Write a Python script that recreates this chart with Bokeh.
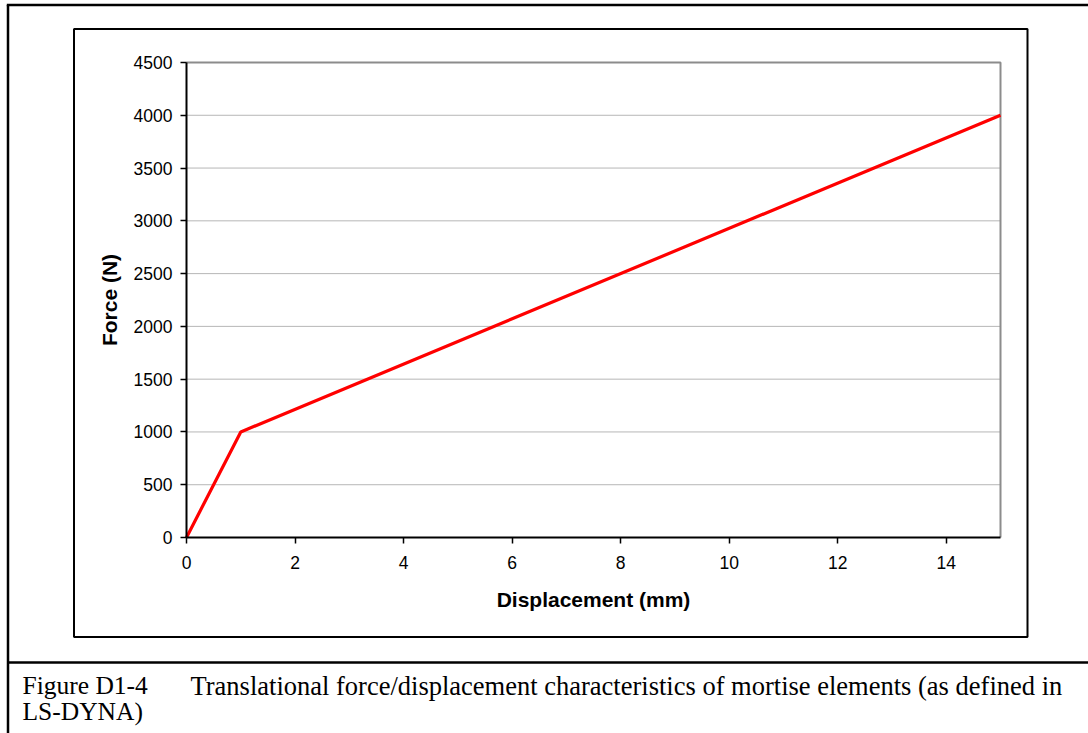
from bokeh.plotting import figure
from bokeh.models import LinearAxis, Range1d, FixedTicker, Grid
from bokeh.core.properties import value
from bokeh.embed import file_html
from bokeh.resources import INLINE

# ---- data ----
displacement = [0, 1, 15]
force = [0, 1000, 4000]
x_ticks = [0, 2, 4, 6, 8, 10, 12, 14]
y_ticks = [0, 500, 1000, 1500, 2000, 2500, 3000, 3500, 4000, 4500]
x_bounds = (0, 15)
y_bounds = (0, 4500)
x_title = "Displacement (mm)"
y_title = "Force (N)"
caption_label = "Figure D1-4"
caption_text = "Translational force/displacement characteristics of mortise elements (as defined in"
caption_line2 = "LS-DYNA)"

# ---- layout (canvas pixels) ----
W, H = 1088, 733
PX0, PX1 = 186, 1000   # canvas x of x_bounds
PY0, PY1 = 537, 62     # canvas y of y_bounds


def dx(px):
    return x_bounds[0] + (px - PX0) / (PX1 - PX0) * (x_bounds[1] - x_bounds[0])


def dy(py):
    return y_bounds[0] + (PY0 - py) / (PY0 - PY1) * (y_bounds[1] - y_bounds[0])


p = figure(width=W, height=H, output_backend="svg", toolbar_location=None,
           x_range=Range1d(dx(0), dx(W)), y_range=Range1d(dy(H), dy(0)),
           x_axis_location=None, y_axis_location=None, min_border=0)
p.center = [r for r in p.center if not isinstance(r, Grid)]
p.outline_line_color = None
p.background_fill_color = "white"
p.border_fill_color = "white"

# page frame lines
p.line(x=[dx(7.5), dx(7.5)], y=[dy(H), dy(4.5)], line_color="black", line_width=2.5)
p.line(x=[dx(6.3), dx(W)], y=[dy(4.5), dy(4.5)], line_color="black", line_width=2.5)
p.line(x=[dx(7.5), dx(W)], y=[dy(662), dy(662)], line_color="black", line_width=2.5)
# chart box
p.quad(left=dx(73.5), right=dx(1027), top=dy(28.5), bottom=dy(636.5),
       fill_color=None, line_color="black", line_width=2)

# gridlines
gy = [v for v in y_ticks if v != y_bounds[0]]
p.segment(x0=[x_bounds[0]] * len(gy), x1=[x_bounds[1]] * len(gy), y0=gy, y1=gy,
          line_color="#6e6e6e", line_width=1, line_dash="1 1")
# plot-area border (top / right)
p.line(x=[x_bounds[0], x_bounds[1], x_bounds[1]], y=[y_bounds[1], y_bounds[1], y_bounds[0]],
       line_color="#8c8c8c", line_width=2)

# data
p.line(x=displacement, y=force, line_color="#ff0000", line_width=3.2)

font = "Liberation Sans"
xaxis = LinearAxis(fixed_location=y_bounds[0], bounds=x_bounds,
                   ticker=FixedTicker(ticks=x_ticks), axis_label=x_title)
yaxis = LinearAxis(fixed_location=x_bounds[0], bounds=y_bounds,
                   ticker=FixedTicker(ticks=y_ticks), axis_label=y_title)
for ax in (xaxis, yaxis):
    ax.axis_line_color = "black"
    ax.axis_line_width = 2
    ax.major_tick_line_color = "black"
    ax.major_tick_line_width = 1.5
    ax.major_tick_in = 0
    ax.major_tick_out = 6
    ax.minor_tick_line_color = None
    ax.major_label_text_font = font
    ax.major_label_text_font_size = "17.5px"
    ax.major_label_text_color = "black"
    ax.axis_label_text_font = font
    ax.axis_label_text_font_style = "bold"
    ax.axis_label_text_font_size = "21px"
    ax.axis_label_text_color = "black"
xaxis.major_label_standoff = 12
xaxis.axis_label_standoff = 16
yaxis.major_label_standoff = 8
yaxis.axis_label_standoff = 10
p.add_layout(xaxis, "below")
p.add_layout(yaxis, "left")

# caption
serif = value("Liberation Serif")
p.text(x=[dx(22)], y=[dy(685)], text=[caption_label], text_font=serif,
       text_font_size="25.5px", text_color="black", text_baseline="alphabetic")
p.text(x=[dx(190)], y=[dy(685)], text=[caption_text], text_font=serif,
       text_font_size="26.5px", text_color="black", text_baseline="alphabetic")
p.text(x=[dx(22)], y=[dy(711)], text=[caption_line2], text_font=serif,
       text_font_size="25.5px", text_color="black", text_baseline="alphabetic")

open("out.html", "w").write(file_html(p, INLINE))
